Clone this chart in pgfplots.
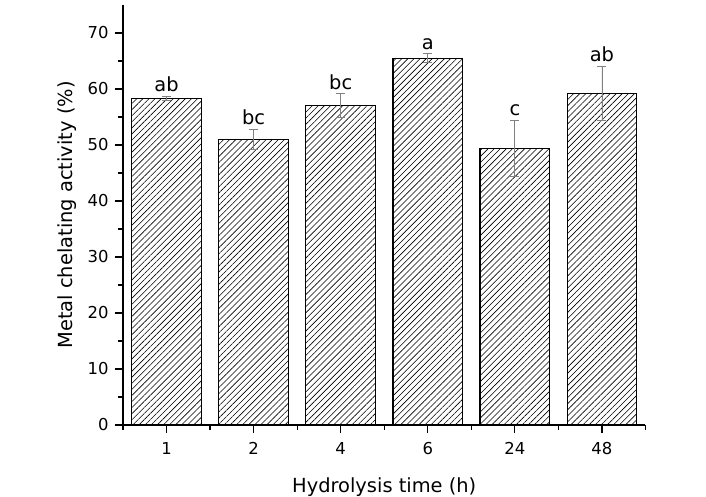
\documentclass[border=0pt]{standalone}
\usepackage{pgfplots}
\pgfplotsset{compat=1.18}
\usepackage{pgfplotstable}
\usepackage{fontspec}
\setmainfont{DejaVu Sans}
\usetikzlibrary{patterns.meta}
\pgfplotstableread{
x y err top label
0 58.3 0.4 58.7 ab
1 51.0 1.8 52.8 bc
2 57.0 2.15 59.15 bc
3 65.5 0.8 66.3 a
4 49.4 5.0 54.4 c
5 59.2 4.85 64.05 ab
}\datatable
\begin{document}
\begin{tikzpicture}
\begin{axis}[
  scale only axis,
  width=522.5bp, height=420bp,
  xmin=-0.5, xmax=5.5, ymin=0, ymax=75,
  enlargelimits=false,
  axis x line=bottom, axis y line=left,
  axis line style={-, line width=1.3bp},
  xtick={0,1,2,3,4,5},
  xticklabels={1,2,4,6,24,48},
  minor xtick={-0.5,0.5,1.5,2.5,3.5,4.5,5.5},
  ytick={0,10,20,30,40,50,60,70},
  minor ytick={5,15,25,35,45,55,65},
  tick align=outside,
  major tick length=8bp, minor tick length=4.5bp,
  tick style={line width=1.2bp, black},
  /pgf/number format/assume math mode=true,
  tick label style={font=\fontsize{16.5}{16.5}\selectfont},
  xticklabel style={yshift=-6bp},
  yticklabel style={xshift=-3bp},
  label style={font=\fontsize{19.5}{19.5}\selectfont},
  xlabel={Hydrolysis time (h)},
  ylabel={Metal chelating activity (\%)},
  xlabel style={at={(axis description cs:0.5,0)}, anchor=base, yshift=-67bp},
  ylabel style={at={(axis description cs:-0.0976,0.5)}, anchor=base},
]
\coordinate (O) at (rel axis cs:0,0);
\addplot[ybar, bar width=0.8, draw=black, line width=1.2bp,
  pattern={Lines[angle=45,distance=4.3bp,line width=0.6bp]},
  error bars/.cd, y dir=both, y explicit,
  error bar style={color=gray, line width=0.9bp},
  error mark options={rotate=90, mark size=4.5bp, gray, line width=0.9bp}]
  table[x=x, y=y, y error=err]{\datatable};
\addplot[draw=none, mark=none, nodes near coords, point meta=explicit symbolic,
  nodes near coords style={anchor=base, inner sep=0pt, yshift=4.5bp, font=\fontsize{19.5}{19.5}\selectfont, black}]
  table[x=x, y=top, meta=label]{\datatable};
\end{axis}
\pgfresetboundingbox
\path[use as bounding box] (O) ++(-123bp,-72bp) rectangle ++(706bp,497bp);
\end{tikzpicture}
\end{document}
